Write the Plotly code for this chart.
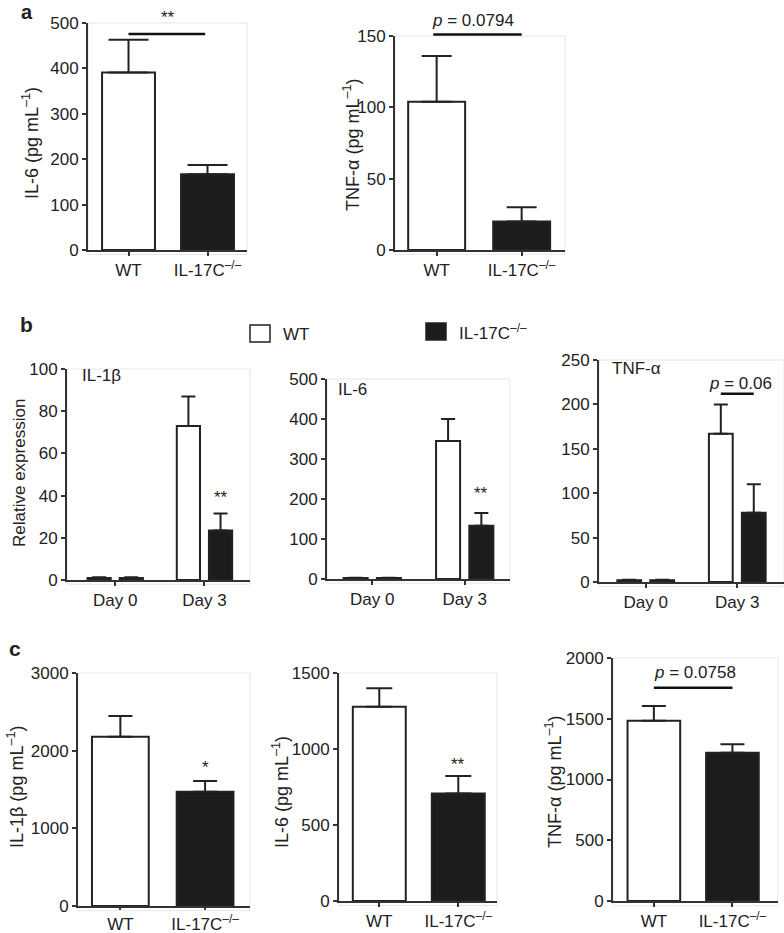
import plotly.graph_objects as go

W, H = 784, 933
FONT = "Liberation Sans, Arial, Helvetica, sans-serif"
INK = "#222222"
DARK = "#1c1c1c"
FS = 17

# ---------------- data ----------------
groups = ["WT", "IL-17C<sup>–/–</sup>"]
days = ["Day 0", "Day 3"]

# panel a (serum, pg/mL)
a_il6_mean = [391, 167]
a_il6_sem = [72, 20]
a_tnf_mean = [104, 20]
a_tnf_sem = [32, 10]

# panel b (relative expression)
b_il1b_wt = [1, 73]
b_il1b_wt_sem = [0.3, 14]
b_il1b_ko = [1, 23.5]
b_il1b_ko_sem = [0.3, 8]
b_il6_wt = [2.5, 345]
b_il6_wt_sem = [0.5, 55]
b_il6_ko = [2.5, 133]
b_il6_ko_sem = [0.5, 32]
b_tnf_wt = [2, 167]
b_tnf_wt_sem = [0.5, 33]
b_tnf_ko = [2, 78]
b_tnf_ko_sem = [0.5, 32]

# panel c (pg/mL)
c_il1b_mean = [2180, 1470]
c_il1b_sem = [265, 140]
c_il6_mean = [1278, 708]
c_il6_sem = [121, 114]
c_tnf_mean = [1484, 1220]
c_tnf_sem = [121, 70]

# tick values
a_il6_ticks = [0, 100, 200, 300, 400, 500]
a_tnf_ticks = [0, 50, 100, 150]
b_il1b_ticks = [0, 20, 40, 60, 80, 100]
b_il6_ticks = [0, 100, 200, 300, 400, 500]
b_tnf_ticks = [0, 50, 100, 150, 200, 250]
c_il1b_ticks = [0, 1000, 2000, 3000]
c_il6_ticks = [0, 500, 1000, 1500]
c_tnf_ticks = [0, 500, 1000, 1500, 2000]

# significance marks: (text, text_x, text_y, line_x, line_y)
sig_a_il6 = ("**", 0.5, 513, [0.0, 0.97], 476)
sig_a_tnf = ("<i>p</i> = 0.0794", 0.43, 161, [-0.04, 1.0], 151)
sig_b_il1b = ("**", 1.18, 39, None, None)
sig_b_il6 = ("**", 1.18, 215, None, None)
sig_b_tnf = ("<i>p</i> = 0.06", 1.03, 224, [0.82, 1.18], 212)
sig_c_il1b = ("*", 1.0, 1777, None, None)
sig_c_il6 = ("**", 1.0, 895, None, None)
sig_c_tnf = ("<i>p</i> = 0.0758", 0.52, 1877, [0.0, 1.0], 1756)

pos = list(range(len(groups)))
dpos = list(range(len(days)))

fig = go.Figure()


def px_x(p):
    return p / W


def px_y(p):
    return 1 - p / H


panels = [
    dict(i=1, x=(88, 247), y=(23, 250), xr=[-0.513, 1.5], yt=a_il6_ticks, kind="pair",
         mean=a_il6_mean, sem=a_il6_sem, cap=20, sig=sig_a_il6, xtl=4),
    dict(i=2, x=(395, 565), y=(36, 250), xr=[-0.49, 1.51], yt=a_tnf_ticks, kind="pair",
         mean=a_tnf_mean, sem=a_tnf_sem, cap=15, sig=sig_a_tnf, xtl=4),
    dict(i=3, x=(67, 250), y=(369, 580), xr=[-0.54, 1.51], yt=b_il1b_ticks, kind="day",
         wt=b_il1b_wt, wts=b_il1b_wt_sem, ko=b_il1b_ko, kos=b_il1b_ko_sem, cap=7,
         sig=sig_b_il1b, xtl=4),
    dict(i=4, x=(327, 510), y=(379, 579), xr=[-0.49, 1.49], yt=b_il6_ticks, kind="day",
         wt=b_il6_wt, wts=b_il6_wt_sem, ko=b_il6_ko, kos=b_il6_ko_sem, cap=7,
         sig=sig_b_il6, xtl=4),
    dict(i=5, x=(599, 784), y=(360, 582), xr=[-0.51, 1.51], yt=b_tnf_ticks, kind="day",
         wt=b_tnf_wt, wts=b_tnf_wt_sem, ko=b_tnf_ko, kos=b_tnf_ko_sem, cap=7,
         sig=sig_b_tnf, xtl=4),
    dict(i=6, x=(78, 250), y=(673, 906), xr=[-0.50, 1.53], yt=c_il1b_ticks, kind="pair",
         mean=c_il1b_mean, sem=c_il1b_sem, cap=12, sig=sig_c_il1b, xtl=2),
    dict(i=7, x=(339, 497), y=(673, 901), xr=[-0.51, 1.49], yt=c_il6_ticks, kind="pair",
         mean=c_il6_mean, sem=c_il6_sem, cap=13, sig=sig_c_il6, xtl=4),
    dict(i=8, x=(613, 778), y=(658, 901), xr=[-0.52, 1.58], yt=c_tnf_ticks, kind="pair",
         mean=c_tnf_mean, sem=c_tnf_sem, cap=12, sig=sig_c_tnf, xtl=4),
]

layout_axes = {}
shapes = []
annotations = []

for p in panels:
    i = p["i"]
    xa = "x" if i == 1 else f"x{i}"
    ya = "y" if i == 1 else f"y{i}"
    xkey = "xaxis" if i == 1 else f"xaxis{i}"
    ykey = "yaxis" if i == 1 else f"yaxis{i}"
    ydom = [px_y(p["y"][1]), px_y(p["y"][0])]
    yr = [p["yt"][0], p["yt"][-1]]

    def to_paper(v, ydom=ydom, yr=yr):
        return ydom[0] + (v - yr[0]) / (yr[1] - yr[0]) * (ydom[1] - ydom[0])

    if p["kind"] == "pair":
        fig.add_trace(go.Bar(
            x=pos, y=p["mean"], xaxis=xa, yaxis=ya, width=0.67,
            marker=dict(color=["white", DARK], line=dict(color=INK, width=2)),
            error_y=dict(type="data", symmetric=False, array=p["sem"],
                         arrayminus=[0] * len(pos), color=INK, thickness=2, width=p["cap"]),
            showlegend=False, hoverinfo="skip"))
        tv, tt = pos, groups
    else:
        for vals, sems, col, off in ((p["wt"], p["wts"], "white", -0.31),
                                     (p["ko"], p["kos"], DARK, 0.05)):
            fig.add_trace(go.Bar(
                x=dpos, y=vals, xaxis=xa, yaxis=ya, width=0.26, offset=off,
                marker=dict(color=col, line=dict(color=INK, width=2)),
                error_y=dict(type="data", symmetric=False, array=sems,
                             arrayminus=[0] * len(dpos), color=INK, thickness=2, width=p["cap"]),
                showlegend=False, hoverinfo="skip"))
        tv, tt = dpos, days

    # significance marks
    txt, tx, ty, lx, ly = p["sig"]
    if lx is not None:
        shapes.append(dict(type="line", xref=xa, yref="paper", x0=lx[0], x1=lx[1],
                           y0=to_paper(ly), y1=to_paper(ly),
                           line=dict(color="#111111", width=2.5)))
    annotations.append(dict(text=txt, x=tx, y=to_paper(ty), xref=xa, yref="paper",
                            showarrow=False, xanchor="center", yanchor="middle",
                            font=dict(family=FONT, size=FS, color=INK)))

    layout_axes[xkey] = dict(domain=[px_x(p["x"][0]), px_x(p["x"][1])], range=p["xr"],
                             anchor=ya, showline=True, linecolor="#333333", linewidth=2,
                             ticks="outside", ticklen=p["xtl"], tickwidth=1.5,
                             tickcolor="#333333",
                             tickvals=tv, ticktext=tt, showgrid=False, zeroline=False,
                             tickfont=dict(family=FONT, size=FS, color=INK), fixedrange=True,
                             automargin=False)
    layout_axes[ykey] = dict(domain=ydom, range=yr, anchor=xa,
                             showline=True, linecolor="#333333", linewidth=2,
                             ticks="outside", ticklen=4, tickwidth=1.5, tickcolor="#333333",
                             tickvals=p["yt"], showgrid=False, zeroline=False,
                             tickfont=dict(family=FONT, size=FS, color=INK), fixedrange=True,
                             automargin=False)
    shapes.append(dict(type="rect", xref=f"{xa} domain", yref=f"{ya} domain",
                       x0=0, x1=1, y0=-0.02, y1=1, line=dict(color="#e6e6e6", width=1),
                       layer="below"))


def ann(text, x, y, size=FS, angle=0, bold=False, xanchor="center", yanchor="middle"):
    t = f"<b>{text}</b>" if bold else text
    annotations.append(dict(text=t, x=px_x(x), y=px_y(y), xref="paper", yref="paper",
                            showarrow=False, textangle=angle, xanchor=xanchor, yanchor=yanchor,
                            borderpad=0,
                            font=dict(family=FONT, size=size, color=INK)))


# y titles
unit = " (pg mL<sup>–1</sup>)"
ann("IL-6" + unit, 31, 143, size=18, angle=-90)
ann("TNF-α" + unit, 352, 145, size=18, angle=-90)
ann("Relative expression", 20, 473, angle=-90)
ann("IL-1β" + unit, 15, 787, size=18, angle=-90)
ann("IL-6" + unit, 280, 792, size=18, angle=-90)
ann("TNF-α" + unit, 553, 782, size=18, angle=-90)

# panel letters
ann("a", 27, 0, size=20, bold=True, yanchor="top")
ann("b", 27, 325, size=21, bold=True)
ann("c", 15, 648, size=21, bold=True)

# inner titles
ann("IL-1β", 81, 375, xanchor="left")
ann("IL-6", 337, 389, xanchor="left")
ann("TNF-α", 611, 368, xanchor="left")

# legend
legend_items = [("WT", "white", 250, 325), (groups[1], DARK, 426, 323)]
for lab, col, lx, ly in legend_items:
    shapes.append(dict(type="rect", xref="paper", yref="paper",
                       x0=px_x(lx), x1=px_x(lx + 20), y0=px_y(ly + 17), y1=px_y(ly),
                       fillcolor=col, line=dict(color=INK, width=1.5)))
    ann(lab, lx + 32, ly + 9, xanchor="left")

fig.update_layout(
    width=W, height=H, margin=dict(l=0, r=0, t=0, b=0, autoexpand=False),
    paper_bgcolor="white", plot_bgcolor="white", barmode="overlay",
    font=dict(family=FONT, size=FS, color=INK),
    shapes=shapes, annotations=annotations, showlegend=False,
    **layout_axes,
)

fig.write_html(
    "out.html",
    config={"displayModeBar": False},
    post_script="document.body.style.margin='0';document.body.style.overflow='hidden';",
)
